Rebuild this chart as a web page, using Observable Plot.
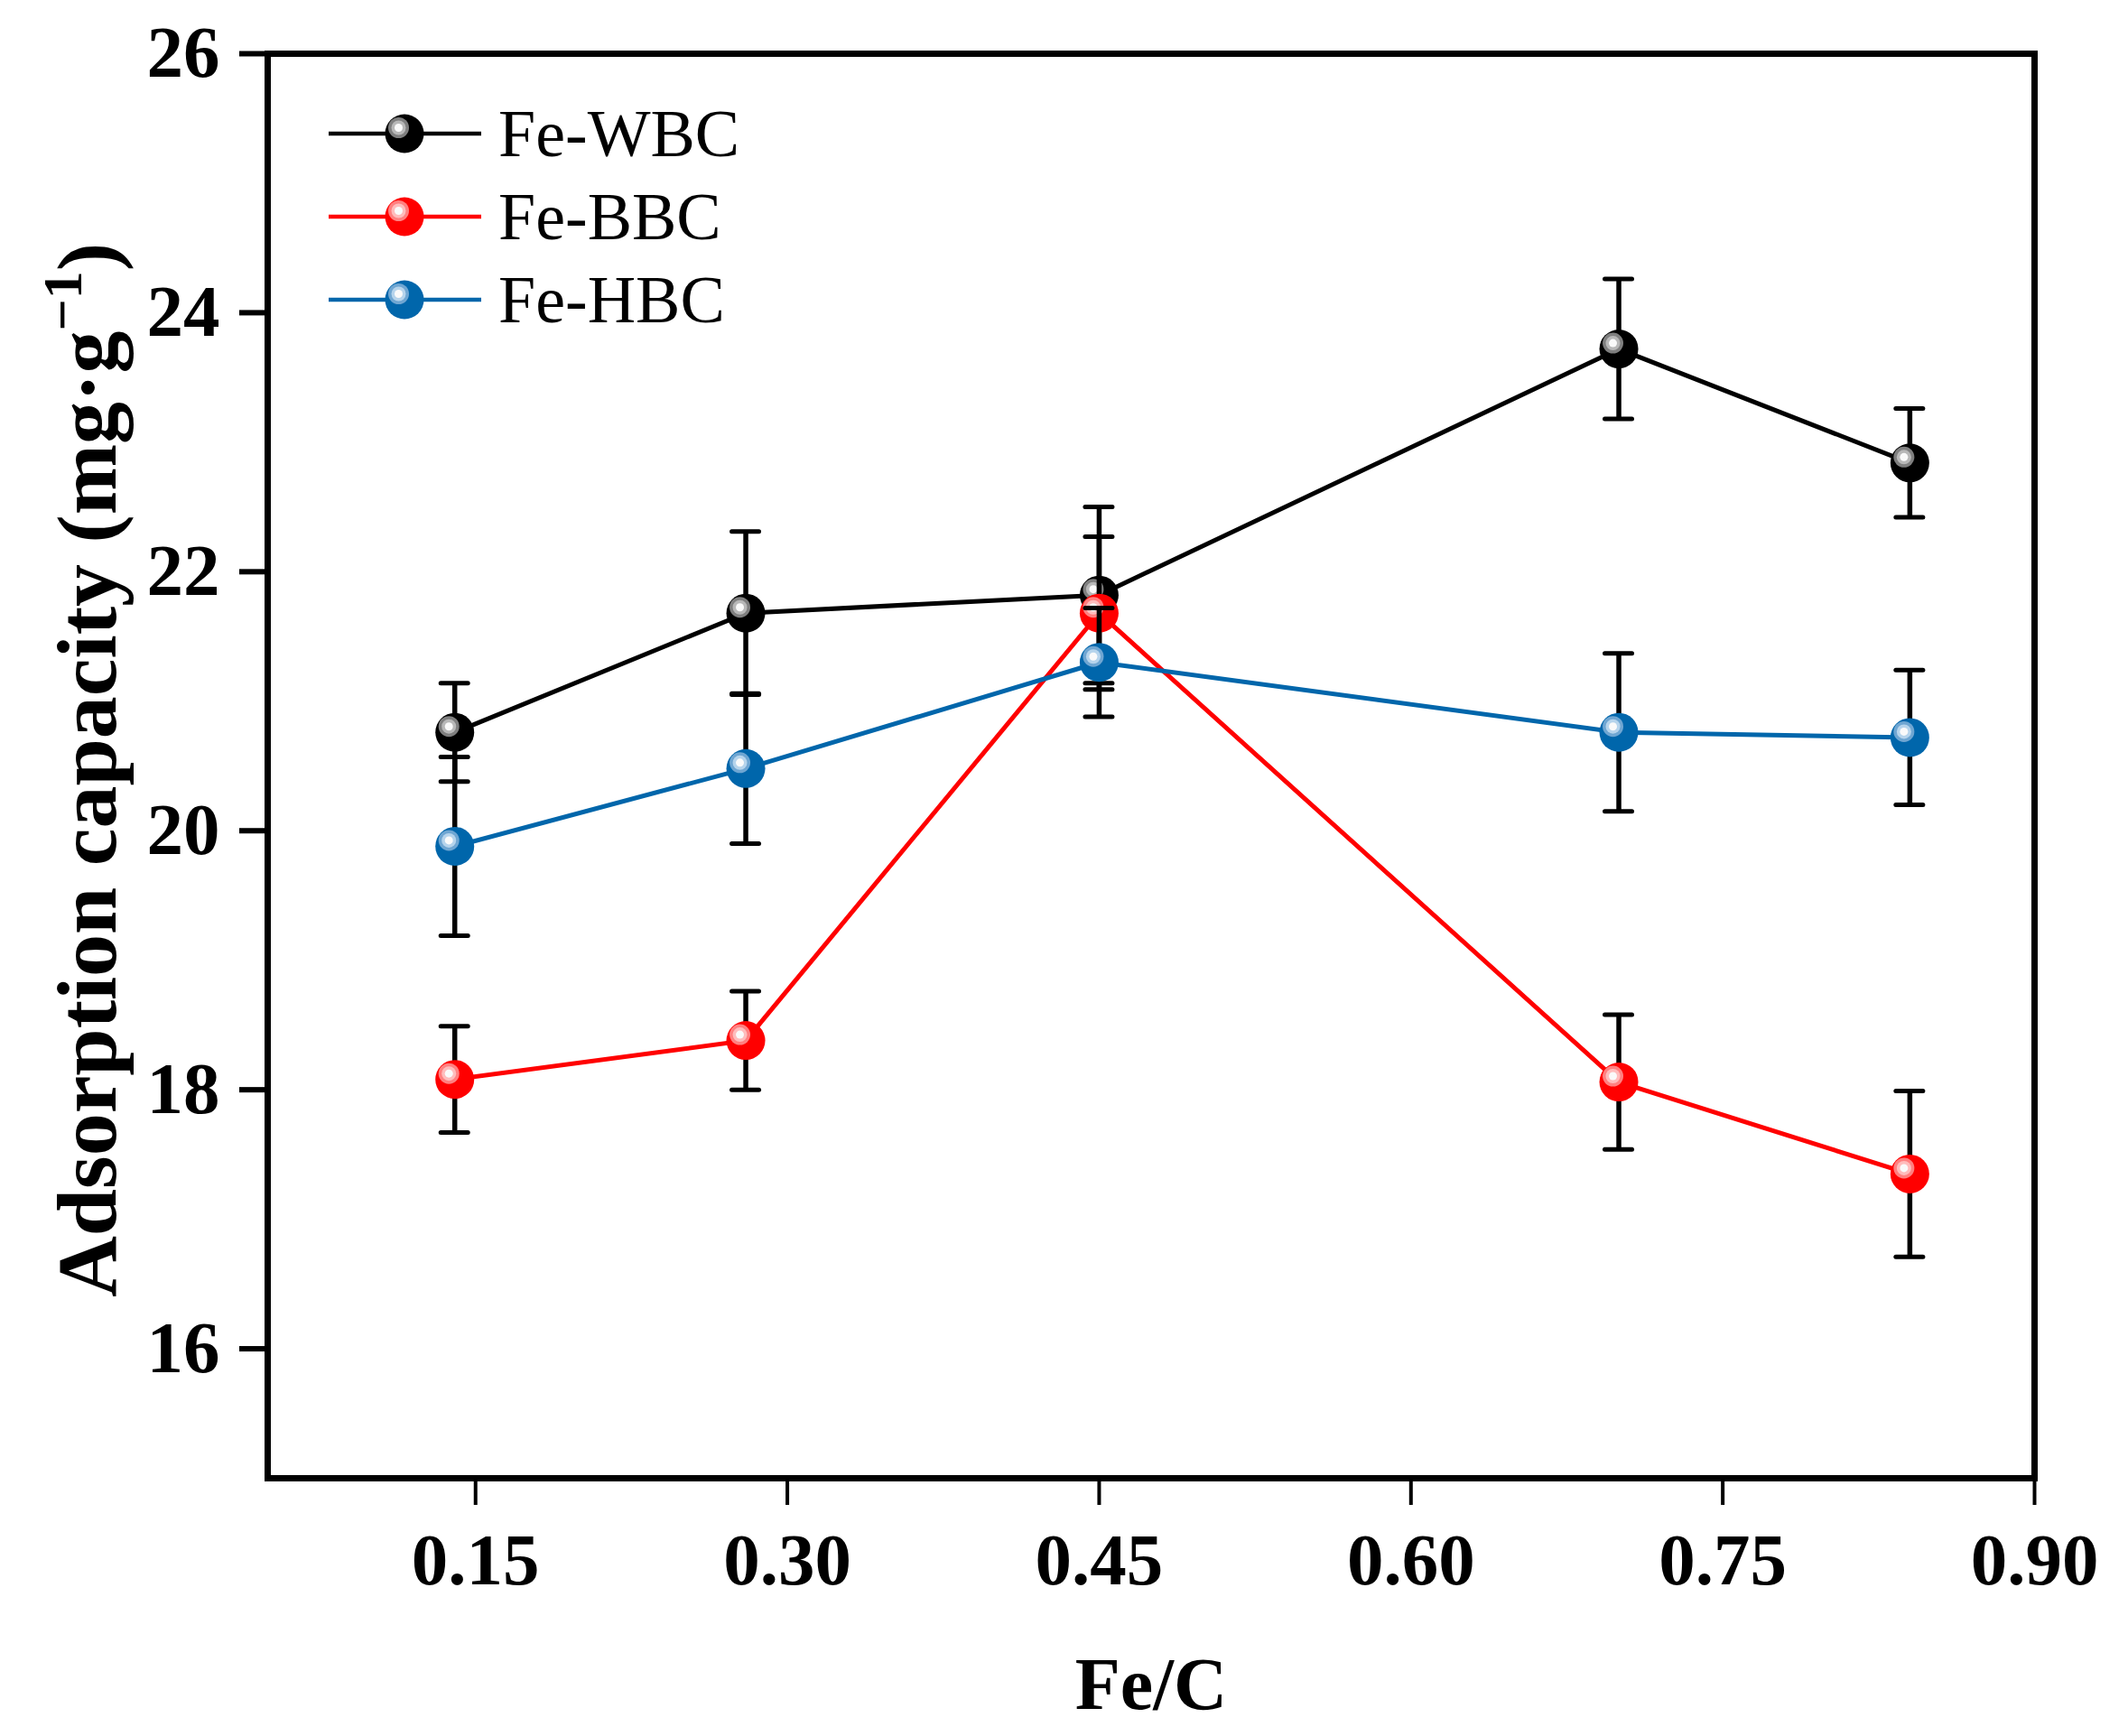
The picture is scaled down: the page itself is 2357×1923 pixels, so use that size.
<!DOCTYPE html>
<html>
<head>
<meta charset="utf-8">
<script src="https://cdn.jsdelivr.net/npm/d3@7"></script>
<script src="https://cdn.jsdelivr.net/npm/@observablehq/plot@0.6"></script>
<style>
  html, body { margin: 0; padding: 0; background: white; }
  #chart svg { display: block; }
</style>
</head>
<body>
<div id="chart"></div>
<script>
// ---- data ----
const feC = [0.14, 0.28, 0.45, 0.70, 0.84];
const wbcValues = [20.76, 21.68, 21.82, 23.72, 22.84];
const wbcErrors = [0.38, 0.63, 0.68, 0.54, 0.42];
const bbcValues = [18.08, 18.38, 21.68, 18.06, 17.35];
const bbcErrors = [0.41, 0.38, 0.59, 0.52, 0.64];
const hbcValues = [19.88, 20.48, 21.30, 20.76, 20.72];
const hbcErrors = [0.69, 0.58, 0.42, 0.61, 0.52];
const seriesNames = ["Fe-WBC", "Fe-BBC", "Fe-HBC"];
const seriesColors = ["#000000", "#ff0000", "#0066ab"];
const highlightOuter = ["#7f7f7f", "#ff8080", "#6fa6d2"];
const highlightInner = ["#b8b8b8", "#ffbcbc", "#b6d4ec"];
const xTicks = [0.15, 0.30, 0.45, 0.60, 0.75, 0.90];
const yTicks = [16, 18, 20, 22, 24, 26];
const xLabel = "Fe/C";

const valueSets = [wbcValues, bbcValues, hbcValues];
const errorSets = [wbcErrors, bbcErrors, hbcErrors];
const seriesRows = seriesNames.map((name, si) =>
  feC.map((x, i) => ({
    series: name, x, y: valueSets[si][i],
    lo: valueSets[si][i] - errorSets[si][i],
    hi: valueSets[si][i] + errorSets[si][i]
  }))
);

const serif = "'Liberation Serif', 'Times New Roman', Times, serif";
const R = 21.5;

const marks = [
  Plot.axisX({ticks: xTicks, tickFormat: d3.format(".2f"), tickSize: 30, tickPadding: 30,
    strokeWidth: 4, fontSize: 81, fontWeight: "bold", label: null}),
  Plot.axisY({ticks: yTicks, tickFormat: d3.format("d"), tickSize: 31, tickPadding: 22,
    strokeWidth: 6, fontSize: 81, fontWeight: "bold", label: null})
];
// connecting lines
seriesRows.forEach((rows, si) => {
  marks.push(Plot.line(rows, {x: "x", y: "y", stroke: seriesColors[si], strokeWidth: 5}));
});
// error bars and glossy markers
seriesRows.forEach((rows, si) => {
  marks.push(
    Plot.ruleX(rows, {x: "x", y1: "lo", y2: "hi", stroke: "black", strokeWidth: 5.5}),
    Plot.ruleY(rows, {y: "lo", x1: "x", x2: "x", insetLeft: -15, insetRight: -15, stroke: "black", strokeWidth: 5, strokeLinecap: "round"}),
    Plot.ruleY(rows, {y: "hi", x1: "x", x2: "x", insetLeft: -15, insetRight: -15, stroke: "black", strokeWidth: 5, strokeLinecap: "round"}),
    Plot.dot(rows, {x: "x", y: "y", r: R, fill: seriesColors[si], stroke: "none"}),
    Plot.dot(rows, {x: "x", y: "y", r: 11.5, dx: -6.5, dy: -6.5, fill: highlightOuter[si], stroke: "none"}),
    Plot.dot(rows, {x: "x", y: "y", r: 8, dx: -6.5, dy: -6.5, fill: highlightInner[si], stroke: "none"}),
    Plot.dot(rows, {x: "x", y: "y", r: 4.5, dx: -6.5, dy: -6.5, fill: "#fafafa", stroke: "none"})
  );
});
marks.push(Plot.frame({stroke: "black", strokeWidth: 7}));

const chart = Plot.plot({
  width: 2357, height: 1923,
  marginLeft: 296, marginRight: 104, marginTop: 59, marginBottom: 286,
  x: {domain: [0.05, 0.90]},
  y: {domain: [15, 26]},
  style: {fontFamily: serif, background: "white", color: "black", overflow: "visible"},
  marks
});
document.getElementById("chart").appendChild(chart);

const svg = d3.select(chart);
// x axis title
svg.append("text").attr("x", 1275).attr("y", 1893)
  .attr("text-anchor", "middle").attr("font-family", serif)
  .attr("font-size", 82).attr("font-weight", "bold").attr("fill", "black").text(xLabel);

// y axis title with superscript
const yt = svg.append("text")
  .attr("transform", "translate(128,853) rotate(-90)")
  .attr("text-anchor", "middle").attr("font-family", serif)
  .attr("font-size", 94).attr("font-weight", "bold").attr("fill", "black");
yt.append("tspan").text("Adsorption capacity (mg\u00b7g");
yt.append("tspan").attr("font-size", 62).attr("dy", -38).text("\u22121");
yt.append("tspan").attr("dy", 38).text(")");

// legend
const legendY = [148, 240, 332];
const lg = svg.append("g");
seriesNames.forEach((name, si) => {
  const y = legendY[si];
  lg.append("line").attr("x1", 364).attr("x2", 533).attr("y1", y).attr("y2", y)
    .attr("stroke", seriesColors[si]).attr("stroke-width", 4.5);
  lg.append("circle").attr("cx", 448).attr("cy", y).attr("r", R).attr("fill", seriesColors[si]);
  lg.append("circle").attr("cx", 441.5).attr("cy", y - 6.5).attr("r", 11.5).attr("fill", highlightOuter[si]);
  lg.append("circle").attr("cx", 441.5).attr("cy", y - 6.5).attr("r", 8).attr("fill", highlightInner[si]);
  lg.append("circle").attr("cx", 441.5).attr("cy", y - 6.5).attr("r", 4.5).attr("fill", "#fafafa");
  lg.append("text").attr("x", 552).attr("y", y + 25).attr("text-anchor", "start")
    .attr("font-family", serif)
    .attr("font-size", 74).attr("font-weight", "normal").attr("fill", "black").text(name);
});
</script>
</body>
</html>
